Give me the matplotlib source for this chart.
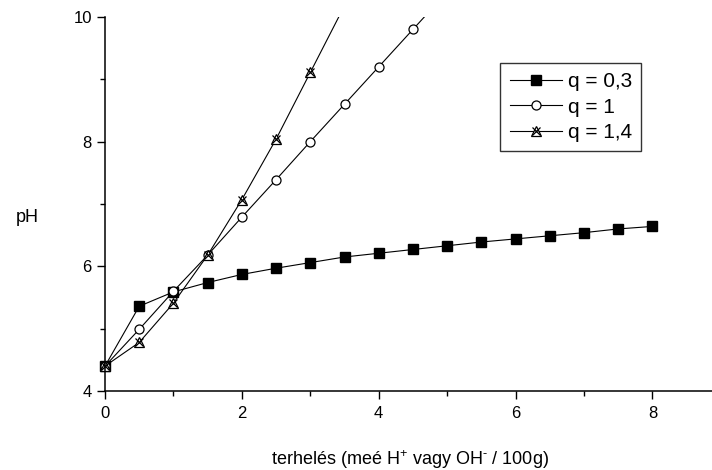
import matplotlib
matplotlib.use("Agg")
import matplotlib.pyplot as plt
from matplotlib.patches import Rectangle
from matplotlib.ticker import MultipleLocator

plt.rcParams["font.family"] = ["Liberation Sans", "DejaVu Sans"]
plt.rcParams["mathtext.fontset"] = "custom"
plt.rcParams["mathtext.rm"] = "Liberation Sans"
plt.rcParams["mathtext.it"] = "Liberation Sans:italic"

# terhelés (meé / 100g)
x_03 = [0, 0.5, 1, 1.5, 2, 2.5, 3, 3.5, 4, 4.5, 5, 5.5, 6, 6.5, 7, 7.5, 8]
ph_03 = [4.4, 5.36, 5.59, 5.74, 5.87, 5.97, 6.06, 6.15, 6.21, 6.27, 6.33,
         6.39, 6.44, 6.49, 6.54, 6.60, 6.64]

x_1 = [0, 0.5, 1, 1.5, 2, 2.5, 3, 3.5, 4, 4.5, 5]
ph_1 = [4.4, 4.99, 5.6, 6.18, 6.79, 7.39, 8.0, 8.6, 9.2, 9.8, 10.4]

x_14 = [0, 0.5, 1, 1.5, 2, 2.5, 3, 3.5]
ph_14 = [4.4, 4.78, 5.41, 6.18, 7.07, 8.04, 9.11, 10.18]

labels = ["q = 0,3", "q = 1", "q = 1,4"]

fig = plt.figure(figsize=(7.12, 4.70), dpi=100)
ax = fig.add_axes([0.1475, 0.168, 0.8525, 0.796])

lw = 0.8
l1, = ax.plot(x_03, ph_03, "-", color="black", lw=lw, marker="s", ms=6.5,
              mfc="black", mec="black")
l2, = ax.plot(x_1, ph_1, "-", color="black", lw=lw, marker="o", ms=6.5,
              mfc="white", mec="black", mew=0.9)
l3, = ax.plot(x_14, ph_14, "-", color="black", lw=lw, marker="^", ms=7,
              mfc="white", mec="black", mew=0.9)
l3x, = ax.plot(x_14, ph_14, "none", marker="x", ms=5.5, mec="black", mew=0.9)

# keep markers at x=0 whole, but cut lines at the top of the axes
for ln in (l1, l2, l3, l3x):
    ln.set_clip_path(Rectangle((-0.05, -0.05), 1.1, 1.05,
                               transform=ax.transAxes))

ax.set_xlim(0, 8.87)
ax.set_ylim(4, 10)
ax.xaxis.set_major_locator(MultipleLocator(2))
ax.xaxis.set_minor_locator(MultipleLocator(1))
ax.yaxis.set_major_locator(MultipleLocator(2))
ax.yaxis.set_minor_locator(MultipleLocator(1))
ax.tick_params(which="major", length=6, width=1, labelsize=12, direction="out")
ax.tick_params(which="minor", length=3.5, width=1, direction="out")
ax.tick_params(axis="x", pad=4.5)

for s in ("top", "right"):
    ax.spines[s].set_visible(False)
for s in ("left", "bottom"):
    ax.spines[s].set_linewidth(1.1)

ax.set_xlabel("terhelés (meé H$^{+}$ vagy OH$^{\u2010}$ / 100g)", fontsize=13)
ax.xaxis.set_label_coords(0.502, -0.153)
ax.set_ylabel("pH", fontsize=13, rotation=0, va="center", ha="center")
ax.yaxis.set_label_coords(-0.128, 0.463)

leg = ax.legend([l1, l2, (l3, l3x)], labels, loc="upper left",
                bbox_to_anchor=(0.651, 0.877), borderaxespad=0,
                fontsize=15, frameon=True, fancybox=False, edgecolor="black",
                handlelength=2.5, handletextpad=0.3, borderpad=0.45,
                labelspacing=0.3)
leg.get_frame().set_linewidth(1.0)

plt.savefig("out.png", dpi=100)
plt.close()
